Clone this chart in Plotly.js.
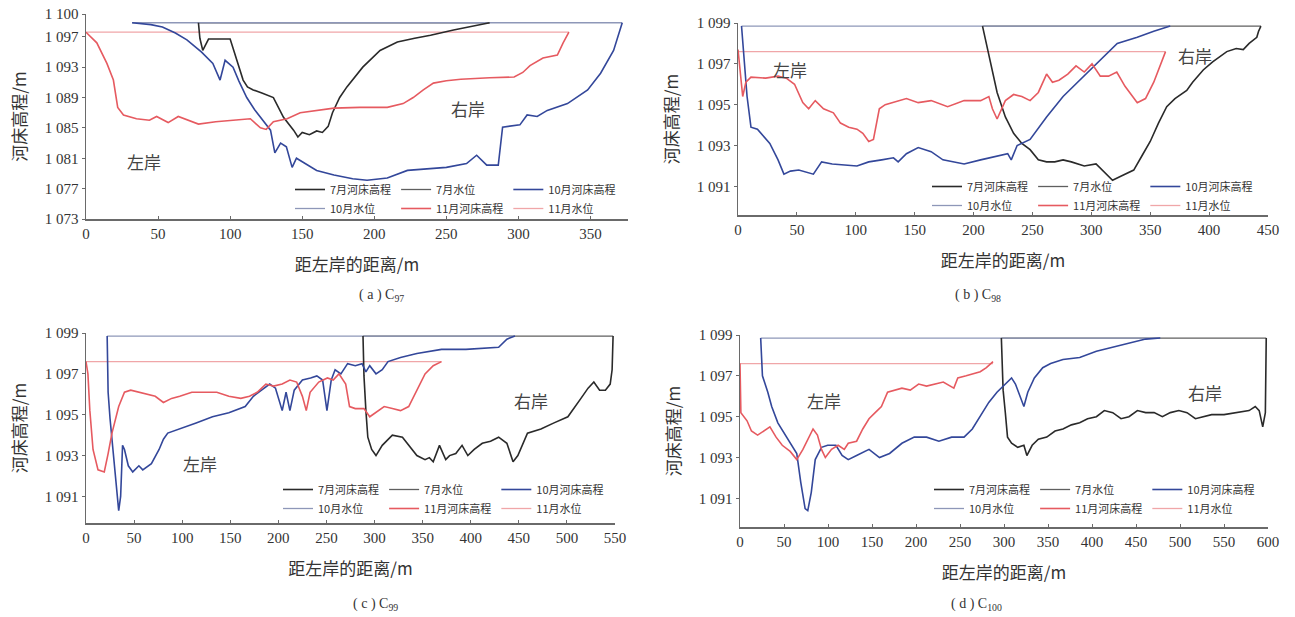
<!DOCTYPE html>
<html><head><meta charset="utf-8">
<script src="https://cdn.plot.ly/plotly-3.0.1.min.js"></script>
<style>html,body{margin:0;padding:0;background:#fff}</style>
</head><body><div id="chart" style="width:1295px;height:617px"></div>
<script>
// ---------- series names / captions ----------
const SERIES = ['7月河床高程','7月水位','10月河床高程','10月水位','11月河床高程','11月水位'];
const CAPTIONS = ['( a ) C<sub>97</sub>','( b ) C<sub>98</sub>','( c ) C<sub>99</sub>','( d ) C<sub>100</sub>'];
const BANK_LABELS = ['左岸','右岸'];
// water levels per panel (a,b,c,d)
const WL_JUL = [1098.85, 1098.85, 1098.85, 1098.85];
const WL_OCT = [1098.85, 1098.85, 1098.85, 1098.85];
const WL_NOV = [1097.6, 1097.6, 1097.6, 1097.6];
// y tick values
const YTICKS_A = [1073,1077,1081,1085,1089,1093,1097,1100];
const YTICKS_BCD = [1091,1093,1095,1097,1099];

// ---------- (a) ----------
const A_JUL_X = [78,79,81,85,100,109,112,116,122,130,137,144,147,150,155,160,164,168,171,176,181,192,204,216,228,239,255,269,280];
const A_JUL_Y = [1098.85,1096.8,1095.2,1096.7,1096.7,1091.3,1090.4,1090.0,1089.6,1089.0,1086.4,1084.7,1083.8,1084.4,1084.1,1084.6,1084.4,1085.2,1087.0,1089.0,1090.4,1093.0,1095.2,1096.3,1096.8,1097.2,1097.9,1098.4,1098.85];
const A_OCT_X = [32,45,53,62,70,80,88,93,96.5,102,106,111.5,117,123,128,131,135,139,143,146,153,160,172,185,195,209,223,237,250,264,271,278,286,289,301,306,313,320,334,348,357,366,371,372];
const A_OCT_Y = [1098.85,1098.6,1098.3,1097.5,1096.6,1095.0,1093.5,1091.3,1093.9,1093.0,1091.2,1089.0,1087.4,1086.0,1084.7,1081.7,1083.0,1082.5,1079.8,1081.0,1080.2,1079.4,1078.8,1078.3,1078.1,1078.4,1079.4,1079.6,1079.8,1080.3,1081.4,1080.1,1080.1,1085.1,1085.4,1086.7,1086.5,1087.3,1088.2,1090.0,1092.2,1095.2,1098.5,1098.85];
const A_NOV_X = [0,7.5,14.5,19,22,26,35,44,49,57,64,72,78,90,100,114,121,125,130,139.5,148.6,160,172,190,209,220,227,234,241,250,260,280,297,303,308,317,327,331,335];
const A_NOV_Y = [1097.6,1096.2,1093.5,1091.3,1087.7,1086.7,1086.2,1086.0,1086.5,1085.7,1086.5,1085.9,1085.5,1085.8,1086.0,1086.2,1085.0,1084.8,1085.8,1086.2,1087.0,1087.3,1087.6,1087.7,1087.7,1088.2,1089.0,1090.0,1090.9,1091.2,1091.4,1091.6,1091.7,1092.3,1093.2,1094.2,1094.6,1096.2,1097.6];

// ---------- (b) ----------
const B_JUL_X = [207.6,213,220,227,234,241,248,255,262,269,276,283,294,304,311,318,325,336,343,350,357,364,371,381,386,395,403,415,423,429,434,440.5,442,444];
const B_JUL_Y = [1098.85,1097.4,1095.6,1094.4,1093.6,1093.1,1092.8,1092.3,1092.2,1092.2,1092.3,1092.2,1092.0,1092.1,1091.7,1091.3,1091.5,1091.8,1092.5,1093.2,1094.1,1094.9,1095.3,1095.7,1096.1,1096.7,1097.1,1097.6,1097.75,1097.7,1098.0,1098.3,1098.6,1098.85];
const B_OCT_X = [3,7.7,11,16.5,27,34,39,44.5,51.6,57,64,71,80,101,111,122,132,136,143,153,164,174,192,206,220,229,232,237,248,262,276,290,304,322,339,353,367];
const B_OCT_Y = [1098.85,1095.4,1093.9,1093.8,1093.1,1092.3,1091.6,1091.75,1091.8,1091.7,1091.6,1092.2,1092.1,1092.0,1092.2,1092.3,1092.4,1092.2,1092.6,1092.9,1092.7,1092.3,1092.1,1092.3,1092.5,1092.6,1092.3,1093.0,1093.3,1094.4,1095.4,1096.2,1097.0,1098.0,1098.3,1098.6,1098.85];
const B_NOV_X = [0,4,6.7,11,23.5,34,41,48,55,60,65.6,72.6,81,87,94,101,106,111,115,120,125,136,143,153,164,178,192,206,213,216,220,227,234,241,248,255,262,267,272.5,280,287,294,300.6,307.6,314.6,321.6,328.6,339,346,353,360,363];
const B_NOV_Y = [1097.7,1095.4,1096.1,1096.35,1096.3,1096.4,1096.3,1096.0,1095.1,1094.8,1095.2,1094.8,1094.6,1094.1,1093.9,1093.8,1093.6,1093.2,1093.3,1094.8,1095.0,1095.2,1095.3,1095.1,1095.2,1094.9,1095.2,1095.2,1095.4,1094.8,1094.3,1095.2,1095.5,1095.4,1095.2,1095.6,1096.5,1096.1,1096.2,1096.5,1096.9,1096.6,1097.0,1096.4,1096.4,1096.6,1095.9,1095.1,1095.3,1096.1,1097.2,1097.6];

// ---------- (c) ----------
const C_JUL_X = [288,289,291,293,297,301.5,308,318.5,329,335.5,344,352.5,357,361,367.5,374,378,384.5,391,397,403.6,412,420.6,429,437.6,444,449,459,473,486.6,501,514.6,522,528,534,540,545,547,548];
const C_JUL_Y = [1098.85,1096.9,1095.2,1093.9,1093.3,1093.0,1093.5,1094.0,1093.9,1093.5,1093.0,1092.8,1092.9,1092.7,1093.5,1092.8,1093.0,1093.1,1093.5,1093.0,1093.3,1093.6,1093.7,1093.9,1093.6,1092.7,1093.0,1094.1,1094.3,1094.6,1094.9,1095.8,1096.3,1096.6,1096.2,1096.2,1096.5,1097.2,1098.85];
const C_OCT_X = [22,23,25,29,34,36,38,40,44,48.6,55,59,68,76,80.5,85,97.5,114.5,131.5,148.5,165.5,174,182.5,191,197,201.6,204,208,212,216.5,225,233.5,240,246,250.5,255,259,265,272,280,287,291,295,301.5,308,314,327,344,369.6,395,420.5,429,437.6,446];
const C_OCT_Y = [1098.85,1096.1,1094.8,1092.8,1090.3,1091.0,1093.5,1093.3,1092.5,1092.2,1092.5,1092.3,1092.6,1093.3,1093.8,1094.1,1094.3,1094.6,1094.9,1095.1,1095.4,1095.9,1096.2,1096.5,1096.3,1095.6,1095.2,1096.1,1095.2,1096.2,1096.7,1096.8,1096.9,1096.7,1095.2,1096.7,1097.2,1097.0,1097.5,1097.4,1097.5,1097.1,1097.4,1097.0,1097.2,1097.6,1097.8,1098.0,1098.2,1098.2,1098.3,1098.3,1098.7,1098.85];
const C_NOV_X = [0,2,4,7.3,12.5,19,23,27,34,40,46.5,55,63.5,72,80.5,89,97.5,110,123,136,148.5,161,170,178,187,195,204,212,219,225,229,233,242,251,257,263,270,274,280,289,295,301.5,310,318.5,327,335.5,344,352.5,361,369.6];
const C_NOV_Y = [1097.6,1097.0,1095.2,1093.3,1092.3,1092.2,1093.1,1094.1,1095.4,1096.1,1096.2,1096.1,1096.0,1095.9,1095.6,1095.8,1095.9,1096.1,1096.1,1096.1,1095.9,1095.8,1095.9,1096.1,1096.5,1096.4,1096.5,1096.7,1096.6,1095.9,1095.2,1096.1,1096.6,1096.8,1096.7,1097.0,1096.5,1095.4,1095.3,1095.3,1094.9,1095.1,1095.4,1095.3,1095.2,1095.4,1096.2,1097.0,1097.4,1097.6];

// ---------- (d) ----------
const D_JUL_X = [297,299,301.5,304,308.6,315.6,322.6,326,332,339,348.6,358,367,376.6,386,395,405,414,423.6,433,442,451.6,461,470.6,480,489,498.7,508,517.5,527,536,550,564.5,578.5,585.5,590,594,597,598];
const D_JUL_Y = [1098.85,1096.3,1095.2,1094.0,1093.7,1093.5,1093.6,1093.1,1093.6,1093.9,1094.0,1094.3,1094.4,1094.6,1094.7,1094.9,1095.0,1095.3,1095.2,1094.9,1095.0,1095.3,1095.2,1095.2,1095.0,1095.2,1095.3,1095.2,1094.9,1095.0,1095.1,1095.1,1095.2,1095.3,1095.5,1095.3,1094.5,1095.2,1098.85];
const D_OCT_X = [23.5,25.5,31.6,36,43,50,57,64.5,69,74,77,81,85.5,92.6,99.6,109,116,123,132.5,146.6,158.5,170,184,198,212,226,240.5,254.6,264,273,282.7,292,301.6,308.6,313,318,322.6,327,334.5,344,353,367,386,405,423.6,442,461,477.6];
const D_OCT_Y = [1098.85,1097.0,1096.2,1095.5,1094.7,1094.2,1093.7,1093.2,1091.8,1090.5,1090.4,1091.3,1092.9,1093.5,1093.6,1093.6,1093.1,1092.9,1093.1,1093.4,1093.0,1093.2,1093.7,1094.0,1094.0,1093.8,1094.0,1094.0,1094.4,1095.0,1095.7,1096.2,1096.6,1096.9,1096.6,1096.0,1095.5,1096.2,1096.9,1097.4,1097.6,1097.8,1097.9,1098.2,1098.4,1098.6,1098.8,1098.85];
const D_NOV_X = [0,1,8,13,20,27,34,41,48,57,64.5,71.5,78.5,83,88,92.6,97,104,111.5,118.5,123,132.5,139.5,146.6,153.6,160.7,167.7,174.7,184,193.5,203,212,222,231,243,247.5,257,264,273,280,287.5];
const D_NOV_Y = [1097.6,1095.2,1094.8,1094.3,1094.1,1094.3,1094.5,1094.0,1093.6,1093.3,1092.9,1093.4,1094.0,1094.4,1094.1,1093.4,1093.0,1093.4,1093.6,1093.4,1093.7,1093.8,1094.4,1094.9,1095.2,1095.5,1096.2,1096.3,1096.4,1096.3,1096.6,1096.5,1096.6,1096.7,1096.4,1096.9,1097.0,1097.1,1097.2,1097.4,1097.7];

// bank label positions [x, y] in data units per panel: [left, right]
const BANK_POS = [
  [[40, 1080.6], [265, 1087.6]],
  [[44, 1096.7], [388, 1097.4]],
  [[119, 1092.6], [463, 1095.7]],
  [[95, 1095.8], [528, 1096.2]]
];

// ---------- build ----------
const PANELS = [
  {jul:[A_JUL_X,A_JUL_Y], oct:[A_OCT_X,A_OCT_Y], nov:[A_NOV_X,A_NOV_Y]},
  {jul:[B_JUL_X,B_JUL_Y], oct:[B_OCT_X,B_OCT_Y], nov:[B_NOV_X,B_NOV_Y]},
  {jul:[C_JUL_X,C_JUL_Y], oct:[C_OCT_X,C_OCT_Y], nov:[C_NOV_X,C_NOV_Y]},
  {jul:[D_JUL_X,D_JUL_Y], oct:[D_OCT_X,D_OCT_Y], nov:[D_NOV_X,D_NOV_Y]}
];
const COL_BED = ['#2a2a2a', '#33479a', '#e65a60'];
const COL_WL  = ['#5f5f5f', '#8e97b8', '#f0a6a8'];

const W = 1295, H = 617;
const FONT = 'Liberation Serif, "Noto Sans CJK SC", serif';
const CJK = '"Noto Sans CJK SC", sans-serif';

// pixel boxes of plot areas [left,right,top,bottom]
const BOX = [[86,628,14,219],[738,1268,23,215],[86,615,333,523],[740,1268,335,527]];
const XR = [[0,376],[0,450],[0,550],[0,600]];
const YR = [[1073,1100],[1089.6,1099],[1089.7,1099],[1089.6,1099]];
const LEG = [[621,223],[1258,220],[609,523],[1260,523]];
const CAP_Y = [295, 295, 604, 604];

const data = [];
const layout = {
  width: W, height: H, margin:{l:0,r:0,t:0,b:0},
  paper_bgcolor:'#fff', plot_bgcolor:'#fff', showlegend:true,
  font:{family:FONT, color:'#333', size:14},
  annotations: []
};
function fmt(v){ const s=String(v); return s.length===4 ? s[0]+' '+s.slice(1) : s; }

PANELS.forEach((p, i) => {
  const n = i===0 ? '' : String(i+1);
  const xa = 'x'+n, ya = 'y'+n, lg = 'legend'+n;
  const wl = [WL_JUL[i], WL_OCT[i], WL_NOV[i]];
  const beds = [p.jul, p.oct, p.nov];
  const ranks = [[1,3],[5,2],[4,6]]; // [bed, wl] ranks -> 3 columns x 2 rows
  const groups = [['g1','g2'],['g3','g1'],['g2','g3']];
  beds.forEach((b, k) => {
    const x0 = b[0][0], x1 = b[0][b[0].length-1];
    data.push({type:'scatter', mode:'lines', x:[x0,x1], y:[wl[k],wl[k]],
      xaxis:xa, yaxis:ya, legend:lg, name:SERIES[2*k+1], legendrank:ranks[k][1],
      legendgroup:'p'+i+groups[k][1], line:{color:COL_WL[k], width:1.3}, hoverinfo:'skip'});
  });
  beds.forEach((b, k) => {
    data.push({type:'scatter', mode:'lines', x:b[0], y:b[1],
      xaxis:xa, yaxis:ya, legend:lg, name:SERIES[2*k], legendrank:ranks[k][0],
      legendgroup:'p'+i+groups[k][0], line:{color:COL_BED[k], width:1.6}});
  });
  const bx = BOX[i];
  const yt = i===0 ? YTICKS_A : YTICKS_BCD;
  layout['xaxis'+n] = {
    domain:[bx[0]/W, bx[1]/W], anchor:ya, range:XR[i], dtick:50, tick0:0,
    showgrid:false, zeroline:false, showline:true, linecolor:'#6a6a6a', linewidth:1.5,
    ticks:'inside', ticklen:3, tickcolor:'#6a6a6a', tickfont:{family:FONT, size:15, color:'#333'},
    title:{text:'距左岸的距离/m', font:{family:CJK, size:17, color:'#333'}, standoff:18}
  };
  layout['yaxis'+n] = {
    domain:[1-bx[3]/H, 1-bx[2]/H], anchor:xa, range:YR[i],
    tickvals:yt, ticktext:yt.map(fmt),
    showgrid:false, zeroline:false, showline:true, linecolor:'#6a6a6a', linewidth:1.5,
    ticks:'outside', ticklen:3, tickcolor:'#6a6a6a', tickfont:{family:FONT, size:15, color:'#333'},
    title:{text:'河床高程/m', font:{family:CJK, size:17, color:'#333'}, standoff:14}
  };
  layout[lg] = {
    x: LEG[i][0]/W, y: 1-LEG[i][1]/H, xanchor:'right', yanchor:'bottom',
    orientation:'h', traceorder:'grouped', itemwidth:30, bgcolor:'rgba(0,0,0,0)',
    font:{family:CJK, size:11, color:'#333'}, tracegroupgap:0, itemclick:false, itemdoubleclick:false
  };
  BANK_POS[i].forEach((pos, k) => {
    layout.annotations.push({xref:xa, yref:ya, x:pos[0], y:pos[1], text:BANK_LABELS[k],
      showarrow:false, font:{family:CJK, size:17, color:'#444'}});
  });
  layout.annotations.push({xref:'paper', yref:'paper', x:(bx[0]+bx[1])/2/W, y:1-CAP_Y[i]/H,
    yanchor:'middle', text:CAPTIONS[i], showarrow:false, font:{family:FONT, size:14, color:'#333'}});
});

Plotly.newPlot('chart', data, layout, {staticPlot:true, displayModeBar:false});
</script></body></html>
